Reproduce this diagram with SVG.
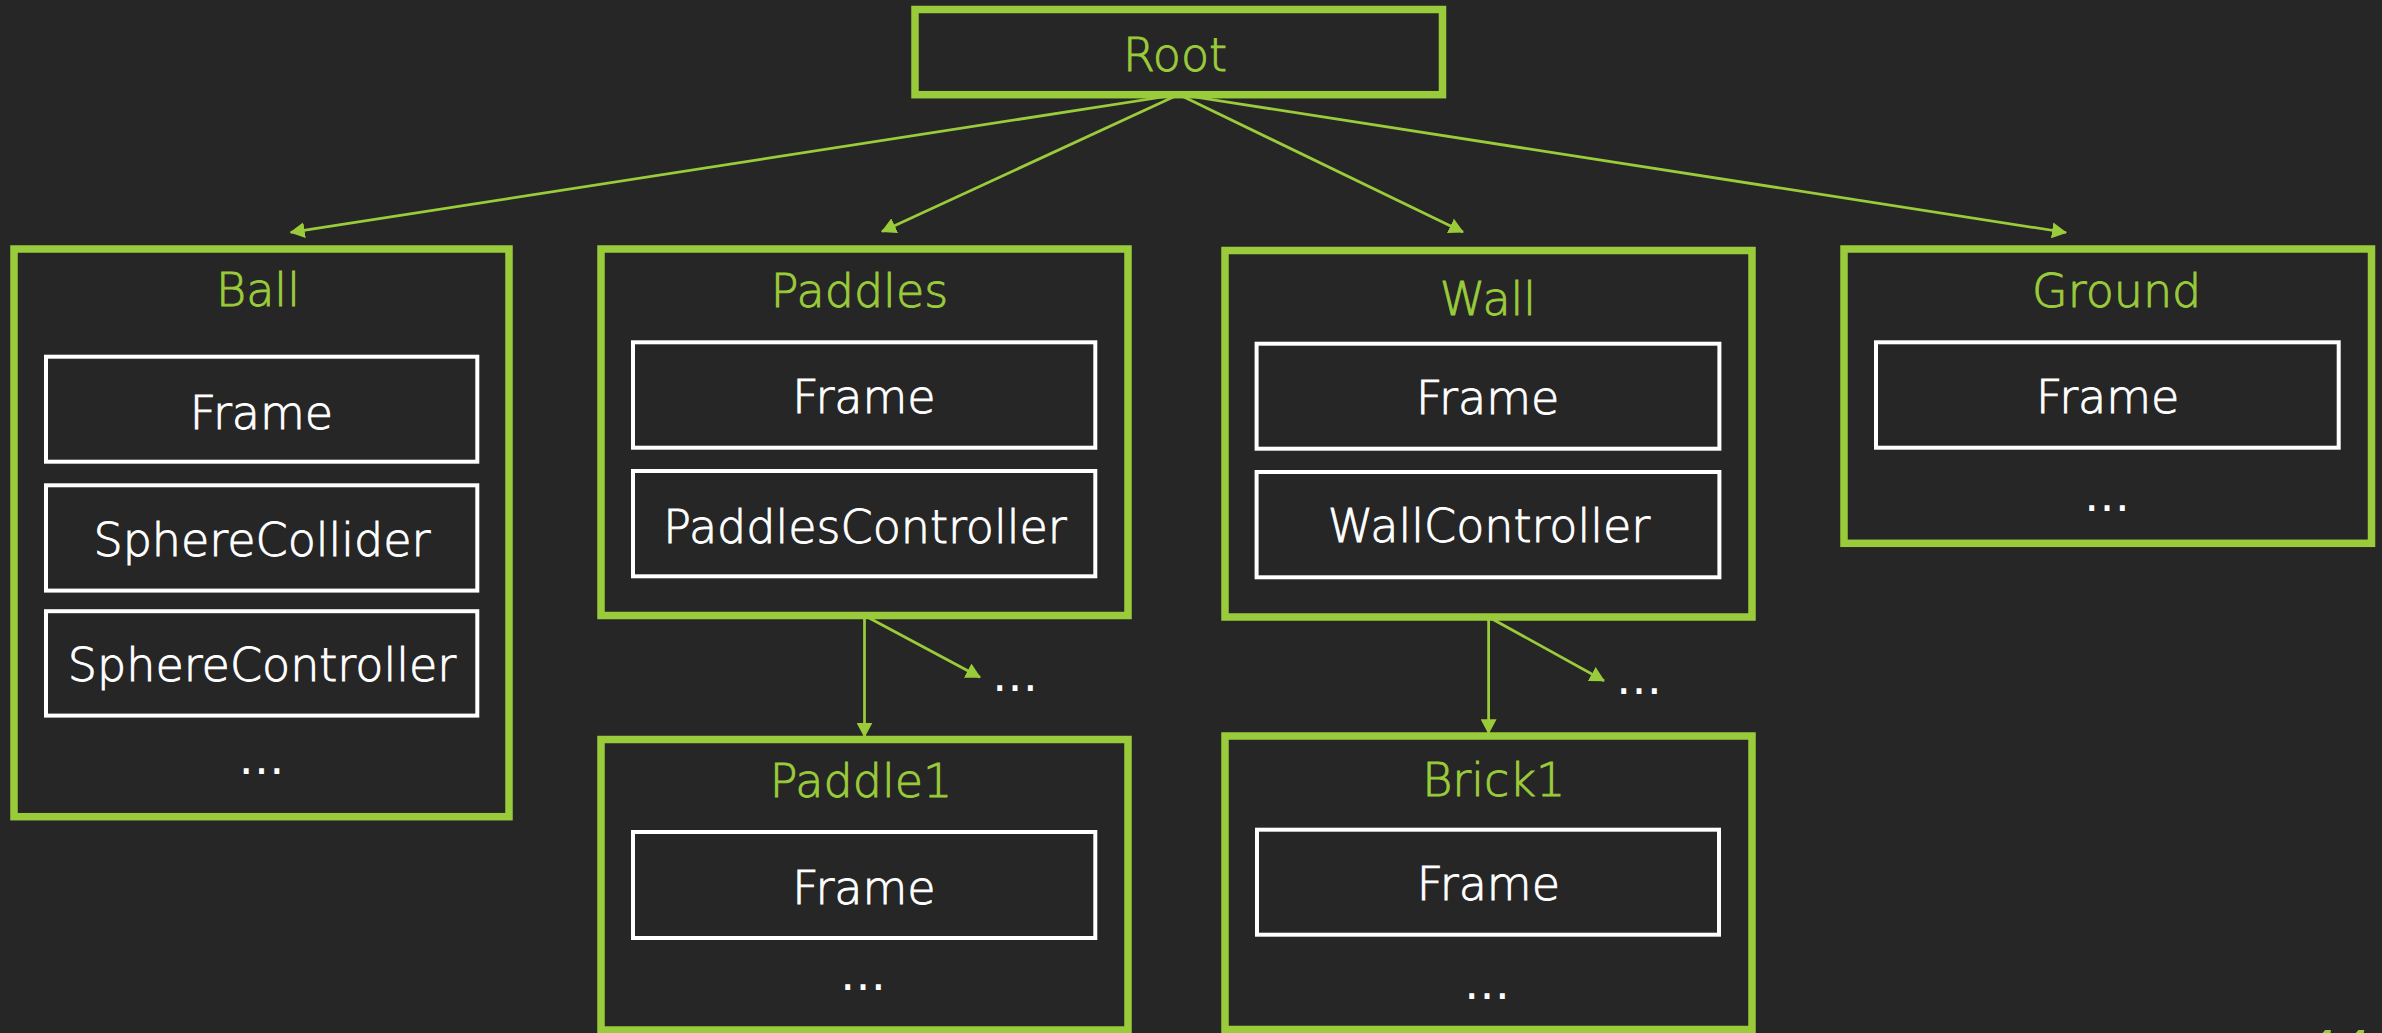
<svg xmlns="http://www.w3.org/2000/svg" width="2382" height="1033" viewBox="0 0 2382 1033">
<defs>
<style>
.bg{fill:#262626}
.box{fill:#262626;stroke:#9ACB3A;stroke-width:7.5}
.item{fill:none;stroke:#FFFFFF;stroke-width:4}
.title{font-family:"DejaVu Sans","Liberation Sans",sans-serif;font-weight:200;font-size:46px;fill:#9ACB3A;stroke:#9ACB3A;stroke-width:0.9;text-anchor:middle}
.lbl{font-family:"DejaVu Sans","Liberation Sans",sans-serif;font-weight:200;font-size:46px;fill:#FFFFFF;stroke:#FFFFFF;stroke-width:0.9;text-anchor:middle}
.dots{font-family:"DejaVu Sans","Liberation Sans",sans-serif;font-size:46px;fill:#FFFFFF;text-anchor:middle}
.conn{fill:none;stroke:#9ACB3A;stroke-width:2.75;marker-end:url(#arrow)}
.pg{font-family:"Liberation Sans",sans-serif;font-style:italic;font-size:60px;fill:#9ACB3A}
</style>
<marker id="arrow" markerUnits="userSpaceOnUse" markerWidth="16" markerHeight="16" refX="14" refY="8" orient="auto">
<path d="M0,0 L15,8 L0,16 Z" fill="#9ACB3A"/>
</marker>
</defs>
<rect class="bg" x="0" y="0" width="2382" height="1033"/>

<g id="connectors">
<line class="conn" x1="1178.75" y1="94.5" x2="290.7" y2="232.3"/>
<line class="conn" x1="1178.75" y1="94.5" x2="882" y2="231.5"/>
<line class="conn" x1="1178.75" y1="94.5" x2="1463" y2="232"/>
<line class="conn" x1="1178.75" y1="94.5" x2="2066" y2="232.5"/>
<line class="conn" x1="864.5" y1="615.5" x2="864.5" y2="736.7"/>
<line class="conn" x1="864.5" y1="615.5" x2="980" y2="677.3"/>
<line class="conn" x1="1488.6" y1="617" x2="1488.6" y2="733.3"/>
<line class="conn" x1="1488.6" y1="617" x2="1604" y2="680.7"/>
</g>

<g id="root">
<rect class="box" x="915" y="9.5" width="527.5" height="85.2"/>
<text class="title" x="1175" y="70.7">Root</text>
</g>

<g id="ball">
<rect class="box" x="14" y="249" width="495" height="567.7"/>
<text class="title" x="258" y="306">Ball</text>
<rect class="item" x="46" y="356.7" width="431.3" height="105"/>
<text class="lbl" x="261.5" y="428.6">Frame</text>
<rect class="item" x="46" y="485.3" width="431.3" height="105.3"/>
<text class="lbl" x="262" y="556">SphereCollider</text>
<rect class="item" x="46" y="611.2" width="431.3" height="104.4"/>
<text class="lbl" x="262" y="681">SphereController</text>
<text class="dots" x="261.5" y="774">…</text>
</g>

<g id="paddles">
<rect class="box" x="601" y="249" width="527" height="366.5"/>
<text class="title" x="859.5" y="307.3">Paddles</text>
<rect class="item" x="633" y="342.3" width="462.3" height="105.4"/>
<text class="lbl" x="864" y="413">Frame</text>
<rect class="item" x="633" y="471" width="462.3" height="105.3"/>
<text class="lbl" x="865" y="542.7">PaddlesController</text>
</g>

<g id="wall">
<rect class="box" x="1225" y="250.5" width="527" height="366.5"/>
<text class="title" x="1488" y="315">Wall</text>
<rect class="item" x="1256.6" y="343.7" width="462.8" height="105"/>
<text class="lbl" x="1487.6" y="414.3">Frame</text>
<rect class="item" x="1256.6" y="472" width="462.8" height="105.3"/>
<text class="lbl" x="1489" y="542.3">WallController</text>
</g>

<g id="ground">
<rect class="box" x="1844" y="249" width="527.5" height="294.3"/>
<text class="title" x="2116.7" y="307.3">Ground</text>
<rect class="item" x="1876" y="342.3" width="462.7" height="105.4"/>
<text class="lbl" x="2107.7" y="412.7">Frame</text>
<text class="dots" x="2107" y="511">…</text>
</g>

<g id="paddles-more">
<text class="dots" x="1015" y="691">…</text>
</g>

<g id="wall-more">
<text class="dots" x="1639" y="694">…</text>
</g>

<g id="paddle1">
<rect class="box" x="601" y="739.5" width="527" height="290.5"/>
<text class="title" x="861" y="797.3">Paddle1</text>
<rect class="item" x="633" y="832" width="462.3" height="106"/>
<text class="lbl" x="864" y="904">Frame</text>
<text class="dots" x="863" y="990">…</text>
</g>

<g id="brick1">
<rect class="box" x="1225" y="736" width="527" height="293.5"/>
<text class="title" x="1493.7" y="796">Brick1</text>
<rect class="item" x="1257" y="829.7" width="462" height="105"/>
<text class="lbl" x="1488.3" y="900">Frame</text>
<text class="dots" x="1487" y="999">…</text>
</g>

<text class="pg" x="2300" y="1071">44</text>
</svg>
